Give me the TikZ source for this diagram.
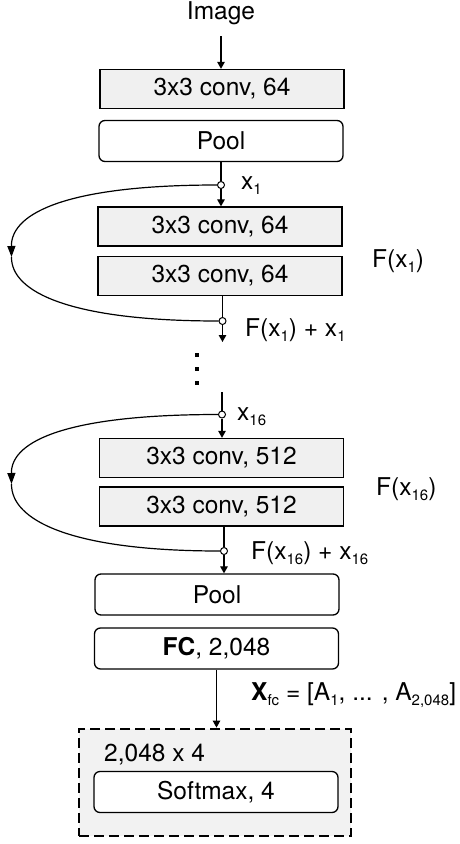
\documentclass[tikz,border=0pt]{standalone}
\usepackage{fontspec}
\setmainfont{TeX Gyre Heros}
\usetikzlibrary{arrows.meta,calc}
\newcommand\lowidx[1]{\raisebox{-5pt}{\fontsize{15}{15}\selectfont #1}}
\begin{document}
\begin{tikzpicture}[x=1pt,y=-1pt,
  every node/.style={font=\fontsize{24.5}{28}\selectfont, inner sep=0pt},
  convbox/.style={draw, line width=1.3pt, fill=black!6, minimum width=244pt, minimum height=39pt},
  roundbox/.style={draw, line width=1.3pt, fill=white, rounded corners=6pt, minimum width=244pt, minimum height=41pt},
  joint/.style={circle, draw, line width=1pt, fill=white, minimum size=7pt},
  link/.style={line width=1.2pt},
  flow/.style={line width=1.2pt, -{Triangle[length=7pt,width=7.5pt]}},
  skip/.style={line width=1.2pt},
  lbl/.style={anchor=base west},
  dot/.style={fill=black, minimum size=3.2pt}
]
\useasboundingbox (0,0) rectangle (459,844);

% input
\node[anchor=base] (img) at (221,19) {Image};
\node[convbox] (c1) at (222,89) {3x3 conv, 64};
\node[roundbox] (p1) at (221,141) {Pool};
\draw[flow] (img.south |- 0,36) -- (img.south |- c1.north);

% first residual block
\node[joint] (j1) at (221,185) {};
\node[convbox] (c2) at (220,226.5) {3x3 conv, 64};
\node[convbox] (c3) at (220,276) {3x3 conv, 64};
\node[joint] (j2) at (222.5,321) {};
\coordinate (e1) at (222.5,342);
\coordinate (L1) at (11.5,257);
\draw[link] (p1.south -| j1) -- (j1);
\draw[flow] (j1) -- (j1 |- c2.north);
\draw[link] (c3.south -| j2) -- (j2);
\draw[flow] (j2) -- (e1);
\draw[skip, -{Triangle[length=11pt,width=8pt]}] (j1.west) .. controls (70,185) and (11,212) .. (L1);
\draw[skip] (L1) .. controls (11,292) and (70,321) .. (j2.west);
\node[lbl] (l1) at (241,189) {x\lowidx{1}};
\node[lbl] (f1) at (372,267) {F(x\lowidx{1})};
\node[lbl] (s1) at (245,336) {F(x\lowidx{1}) + x\lowidx{1}};

% vertical ellipsis
\node[dot] (d1) at (197,355) {};
\node[dot] (d2) at (197,369) {};
\node[dot] (d3) at (197,383) {};

% last residual block
\coordinate (e2) at (222,392);
\node[joint] (j3) at (222,414.5) {};
\node[convbox] (c4) at (221.5,458) {3x3 conv, 512};
\node[convbox] (c5) at (221.5,506.5) {3x3 conv, 512};
\node[joint] (j4) at (224,551) {};
\coordinate (L2) at (11.5,484);
\draw[link] (e2) -- (j3);
\draw[flow] (j3) -- (j3 |- c4.north);
\draw[link] (c5.south -| j4) -- (j4);
\draw[skip, -{Triangle[length=11pt,width=8pt]}] (j3.west) .. controls (70,414.5) and (11,440) .. (L2);
\draw[skip] (L2) .. controls (11,520) and (70,551) .. (j4.west);
\node[lbl] (l2) at (237,420) {x\lowidx{16}};
\node[lbl] (f2) at (376,495) {F(x\lowidx{16})};
\node[lbl] (s2) at (251,559) {F(x\lowidx{16}) + x\lowidx{16}};

% head
\node[roundbox] (p2) at (217,594.5) {Pool};
\node[roundbox] (fc) at (216.5,648.5) {\textbf{FC}, 2,048};
\draw[flow] (j4) -- (j4 |- p2.north);
\node[draw, line width=2.8pt, dash pattern=on 10pt off 5pt, fill=black!5,
      minimum width=272pt, minimum height=107pt] (cls) at (215,782.5) {};
\node[anchor=base west] (dim) at (104,761) {2,048 x 4};
\node[roundbox] (sm) at (216,792) {Softmax, 4};
\draw[flow] (fc.south) -- (fc.south |- cls.north);
\node[lbl] (xfc) at (251,700) {\textbf{X}\lowidx{fc} = [A\lowidx{1}, ... , A\lowidx{2,048}]};
\end{tikzpicture}
\end{document}
